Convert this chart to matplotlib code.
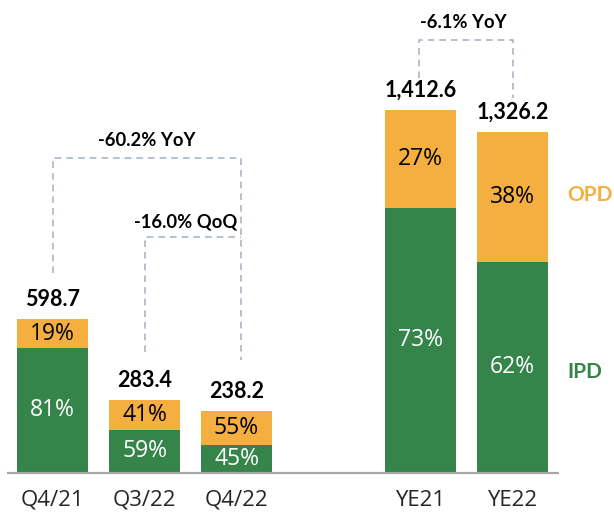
import matplotlib.pyplot as plt
import numpy as np

categories = ['Q4/21', 'Q3/22', 'Q4/22', 'YE21', 'YE22']
positions = [0, 1, 2, 4, 5]
totals = [598.7, 283.4, 238.2, 1412.6, 1326.2]
total_labels = ['598.7', '283.4', '238.2', '1,412.6', '1,326.2']
ipd_pct = [81, 59, 45, 73, 62]
opd_pct = [19, 41, 55, 27, 38]

GREEN = '#35844A'
ORANGE = '#F5AE40'
DASH = '#A8B6C5'

totals = np.array(totals)
ipd = totals * np.array(ipd_pct) / 100
opd = totals - ipd

fig = plt.figure(figsize=(6.14, 5.13), dpi=100)
ax = fig.add_axes([0, 0, 1, 1])
ax.set_xlim(-0.571, 6.103)
ax.set_ylim(-157.4, 1841)
ax.axis('off')

w = 0.77
ax.bar(positions, ipd, width=w, color=GREEN, zorder=2)
ax.bar(positions, opd, width=w, bottom=ipd, color=ORANGE, zorder=2)
ax.plot([-0.49, 5.5], [0, 0], color='#A6A6A6', lw=1.6, zorder=3, solid_capstyle='butt')

for x, t, lab, i, o, pi, po in zip(positions, totals, total_labels, ipd, opd, ipd_pct, opd_pct):
    ax.text(x, i / 2, f'{pi}%', ha='center', va='center', color='white',
            fontsize=16.5, family='Open Sans')
    ax.text(x, i + o / 2, f'{po}%', ha='center', va='center', color='black',
            fontsize=16.5, family='Open Sans')
    ax.text(x, t + 35, lab, ha='center', va='bottom', color='black',
            fontsize=15.5, fontweight='bold', family='Lato')
    ax.text(x, -108, categories[positions.index(x)], ha='center', va='center',
            color='#262626', fontsize=16, family='Open Sans')

dash = dict(color=DASH, lw=1.2, ls=(0, (4, 3)), zorder=1)
# -60.2% YoY bracket
ax.plot([0, 0, 2.05, 2.05], [778, 1225, 1225, 439], **dash)
# -16.0% QoQ bracket
ax.plot([1, 1, 2.05], [470, 918, 918], **dash)
# -6.1% YoY bracket
ax.plot([3.98, 3.98, 5.0, 5.0], [1537, 1685, 1685, 1459], **dash)

bold = dict(ha='center', va='center', fontsize=13.2, fontweight='bold', family='Lato')
ax.text(1.02, 1295, '-60.2% YoY', **bold)
ax.text(1.45, 975, '-16.0% QoQ', **bold)
ax.text(4.47, 1755, '-6.1% YoY', **bold)

ax.text(5.6, 1081, 'OPD', color=ORANGE, ha='left', va='center', fontsize=15,
        fontweight='bold', family='Lato')
ax.text(5.6, 392, 'IPD', color=GREEN, ha='left', va='center', fontsize=15,
        fontweight='bold', family='Lato')

fig.savefig('out.png', dpi=100)
